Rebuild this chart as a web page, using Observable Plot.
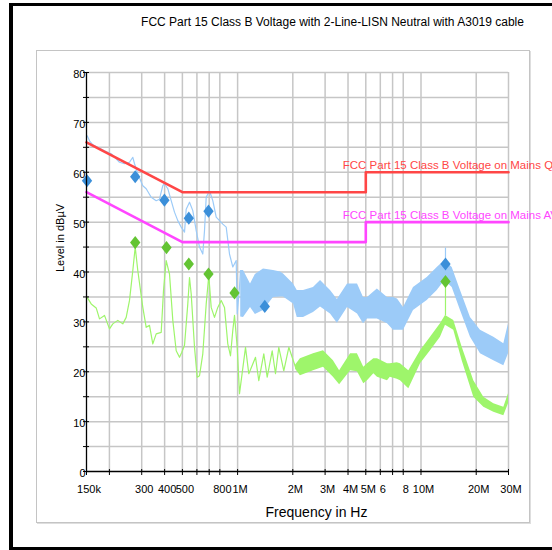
<!DOCTYPE html>
<html><head><meta charset="utf-8">
<script src="https://cdn.jsdelivr.net/npm/d3@7"></script>
<script src="https://cdn.jsdelivr.net/npm/@observablehq/plot@0.6"></script>
<style>
html,body{margin:0;padding:0;background:#fff;width:552px;height:550px;overflow:hidden;}
#outer{position:absolute;left:9px;top:3px;width:600px;height:547px;box-sizing:border-box;border-left:4px solid #000;border-top:3px solid #000;border-bottom:3px solid #000;}
#panel{position:absolute;left:36px;top:50px;width:494px;height:473px;box-sizing:border-box;border:1px solid #c4c4c4;box-shadow:1px 1px 0 #dedede;}
#chart{position:absolute;left:0;top:0;}
</style></head><body>
<div id="outer"></div><div id="panel"></div><div id="chart"></div>
<script>
// ---- data (frequency in MHz, level in dBµV) ----
const titleText = "FCC Part 15 Class B Voltage with 2-Line-LISN Neutral with A3019 cable";
const xLabel = "Frequency in Hz";
const yLabel = "Level in dBµV";

const xTickValues = [0.15,0.2,0.3,0.4,0.5,0.6,0.7,0.8,1,2,3,4,5,6,7,8,10,20,30];
const xTickLabels = ["150k","","300","400","500","","","800","1M","2M","3M","4M","5M","6","","8","10M","20M","30M"];
const yMajor = [0,10,20,30,40,50,60,70,80];
const yMinor = [5,15,25,35,45,55,65,75];

// limit lines
const qpFreq = [0.15,0.5,5,5,30];
const qpLevel = [66,56,56,60,60];
const avFreq = [0.15,0.5,5,5,30];
const avLevel = [56,46,46,50,50];
const qpName = "FCC Part 15 Class B Voltage on Mains QP";
const avName = "FCC Part 15 Class B Voltage on Mains AV";

// peak trace (low-frequency part, single line)
const peakLowFreq = [0.1513,0.1558,0.1624,0.1728,0.188,0.2045,0.2177,0.227,0.2417,0.2574,0.2683,0.2741,0.2856,0.3042,0.3174,0.338,0.3598,0.375,0.3909,0.3994,0.4163,0.4344,0.4528,0.472,0.4926,0.5135,0.5245,0.5467,0.5698,0.5946,0.6198,0.646,0.66,0.6742,0.7026,0.7324,0.7644,0.7968,0.8305,0.8666,0.9033,0.9415,0.9827,0.995,1.0241,1.0372];
const peakLowLevel = [67.3,66.3,65.5,65.0,64.3,63.7,62.7,62.0,61.7,62.0,63.0,61.7,59.7,57.3,56.7,55.0,54.3,54.6,57.3,57.7,56.7,54.3,52.0,50.3,49.0,48.0,52.6,54.0,52.3,48.3,45.0,43.6,48.3,55.0,56.3,54.3,51.0,50.3,49.6,49.0,43.6,41.0,42.3,31.6,37.0,40.3];
// peak trace (high-frequency part, dense noise band)
const peakBandFreq = [1.04,1.077,1.176,1.25,1.384,1.569,1.714,1.78,2.018,2.114,2.288,2.593,2.832,3.21,3.5,3.975,4.217,4.507,4.858,5.108,5.78,6.566,7.08,7.443,8.03,9.1,10.81,12.26,13.49,14.79,16.42,18.61,21.1,24.95,28.29,30];
const peakBandLow = [31,30.9,32.9,31.5,32.3,34.9,35,35,33.6,30.9,30.9,31.9,33,31.6,29.7,32.9,32.3,31.6,29.6,30.6,30.6,29.6,28.3,28.3,28.3,32.3,34.3,36.3,38.3,36.9,32.3,26.9,23.6,22.2,21.2,23.6];
const peakBandHigh = [40.3,40.3,37.6,39.5,40.6,40.3,40,39.6,37.6,36.3,36.3,36.9,38.3,36.3,34.5,37.6,37.6,37.6,34.9,34.9,36.6,34.9,34.9,34.6,32.9,36.9,38.9,40.9,42.3,40.9,36.3,30.9,28.3,26.9,25.6,29.6];

// average trace (low-frequency part)
const avgLowFreq = [0.1513,0.1591,0.1694,0.1766,0.188,0.2002,0.2087,0.2222,0.2366,0.2469,0.2574,0.2683,0.2765,0.2856,0.3042,0.3174,0.3308,0.3448,0.3598,0.3832,0.3944,0.408,0.4253,0.4433,0.4626,0.4822,0.4963,0.5135,0.5351,0.5467,0.5585,0.5821,0.6022,0.6198,0.646,0.6742,0.6965,0.7178,0.7482,0.7799,0.814,0.8483,0.8841,0.9148,0.9415,0.9619,0.995,1.0241,1.1044,1.151,1.252,1.305,1.3893,1.4502,1.5438,1.6092,1.6773,1.786,1.9025,2.069];
const avgLowLevel = [34.9,33.6,32.8,30.6,31.3,28.6,29.6,30.3,29.6,30.9,34.3,40.3,45.0,40.3,32.9,28.9,29.3,25.6,27.6,27.9,36.3,42.3,39.6,30.3,24.2,22.9,23.9,25.3,33.6,38.9,35.6,24.9,18.9,19.2,23.6,33.6,39.3,32.9,30.9,32.9,34.3,32.9,25.6,23.2,28.3,31.3,24.9,15.6,24.9,19.6,22.9,18.2,23.6,18.9,24.2,19.6,24.9,20.2,24.9,20.9];
// average trace (high-frequency band)
const avgBandFreq = [2.069,2.2,2.593,2.94,3.33,3.6,4.13,4.5,4.876,5.108,5.53,5.79,6.566,6.8,7.416,7.73,8.58,9.94,11.27,12.77,13.6,15.09,16.77,19.4,22.0,24.95,28.29,30];
const avgBandLow = [20.5,19.2,20.2,20.9,18.9,17.4,20.2,20.0,17.6,18.2,19.6,18.9,18.2,18.9,18.5,18.2,16.6,21.6,24.2,26.9,29.3,28.3,22.2,14.9,12.9,11.9,11.2,13.6];
const avgBandHigh = [21.3,22.6,23.6,24.2,22.2,20.2,23.6,23.6,20.9,21.6,22.6,22.6,21.6,21.6,21.8,21.6,20.2,24.2,26.9,29.6,31.3,30.3,24.9,18.2,14.9,13.6,12.9,15.6];

// spikes at the final measurement frequency
const spikeFreq = [13.6];
const peakSpikeLow = [41.6], peakSpikeHigh = [44.8];
const avgSpikeLow = [31.2], avgSpikeHigh = [38.1];

// final measurement markers
const peakMarkFreq = [0.151,0.2765,0.399,0.5419,0.6939,1.407,13.6];
const peakMarkLevel = [58.3,59.1,54.4,50.8,52.2,33.1,41.6];
const avgMarkFreq = [0.2765,0.4096,0.5419,0.6939,0.9619,13.6];
const avgMarkLevel = [45.9,44.9,41.6,39.6,35.8,38.1];

// ---- build tables ----
const pts = (fs, vs) => fs.map((f, i) => ({f, v: vs[i]}));
const band = (fs, lo, hi) => fs.map((f, i) => ({f, lo: lo[i], hi: hi[i]}));
const peakLow = pts(peakLowFreq, peakLowLevel);
const avgLow = pts(avgLowFreq, avgLowLevel);
const peakBand = band(peakBandFreq, peakBandLow, peakBandHigh);
const avgBand = band(avgBandFreq, avgBandLow, avgBandHigh);
const qp = pts(qpFreq, qpLevel);
const av = pts(avFreq, avLevel);
const peakSpikes = band(spikeFreq, peakSpikeLow, peakSpikeHigh);
const avgSpikes = band(spikeFreq, avgSpikeLow, avgSpikeHigh);
const peakMarks = pts(peakMarkFreq, peakMarkLevel);
const avgMarks = pts(avgMarkFreq, avgMarkLevel);
const xTicks = xTickValues.map((v, i) => ({v, label: xTickLabels[i]}));

const diamond = {
  draw(context, size) {
    const s = Math.sqrt(size / Math.PI);
    context.moveTo(0, -s);
    context.lineTo(0.78 * s, 0);
    context.lineTo(0, s);
    context.lineTo(-0.78 * s, 0);
    context.closePath();
  }
};

const font = "'Liberation Sans', Arial, sans-serif";
const gridColor = "#c6c6c6";
const peakColor = "#9ccbf8";
const avgColor = "#9ef56b";

const chart = Plot.plot({
  width: 552, height: 550,
  marginLeft: 86, marginRight: 44, marginTop: 72, marginBottom: 79,
  style: {fontFamily: font, fontSize: "11px", background: "transparent", color: "#000", overflow: "visible"},
  x: {type: "log", domain: [0.15, 30], axis: null},
  y: {domain: [0, 80]},
  marks: [
    Plot.ruleY(yMajor.concat(yMinor).filter(d => d > 0), {stroke: gridColor, strokeWidth: 1.5}),
    Plot.ruleX(xTickValues.filter(d => d > 0.15), {stroke: gridColor, strokeWidth: 1.5}),
    Plot.areaY(peakBand, {x: "f", y1: "lo", y2: "hi", fill: peakColor}),
    Plot.line(peakLow, {x: "f", y: "v", stroke: peakColor, strokeWidth: 1.2}),
    Plot.ruleX(peakSpikes, {x: "f", y1: "lo", y2: "hi", stroke: peakColor, strokeWidth: 1.2}),
    Plot.areaY(avgBand, {x: "f", y1: "lo", y2: "hi", fill: avgColor}),
    Plot.line(avgLow, {x: "f", y: "v", stroke: avgColor, strokeWidth: 1.2}),
    Plot.ruleX(avgSpikes, {x: "f", y1: "lo", y2: "hi", stroke: avgColor, strokeWidth: 1.2}),
    Plot.line(qp, {x: "f", y: "v", stroke: "#ff4646", strokeWidth: 2.6}),
    Plot.line(av, {x: "f", y: "v", stroke: "#ff46ff", strokeWidth: 2.6}),
    Plot.text(qp.slice(3, 4), {x: "f", y: "v", text: () => qpName, fill: "#ff4646", textAnchor: "start", lineAnchor: "middle", dx: -23, dy: -7, fontSize: 11.5}),
    Plot.text(av.slice(3, 4), {x: "f", y: "v", text: () => avName, fill: "#ff46ff", textAnchor: "start", lineAnchor: "middle", dx: -23, dy: -7, fontSize: 11.5}),
    Plot.dot(peakMarks, {x: "f", y: "v", symbol: diamond, r: 6.6, fill: "#3b8fd9", stroke: "none"}),
    Plot.dot(avgMarks, {x: "f", y: "v", symbol: diamond, r: 6.6, fill: "#63c433", stroke: "none"}),
    // axis lines and tick marks
    Plot.ruleY([0], {stroke: "#000", strokeWidth: 1.3}),
    Plot.ruleX([0.15], {stroke: "#000", strokeWidth: 1.3}),
    Plot.ruleX(xTickValues, {stroke: "#000", strokeWidth: 1, insetTop: 397, insetBottom: -4}),
    Plot.ruleY(yMajor.concat(yMinor), {stroke: "#000", strokeWidth: 1, insetLeft: -3, insetRight: 419}),
    // tick labels
    Plot.text(xTicks, {x: "v", text: "label", frameAnchor: "bottom", dy: 18, dx: 2.5, lineAnchor: "middle", fontSize: 11}),
    Plot.axisY(yMajor, {tickSize: 0, tickPadding: 1, dy: 2, label: null, fontSize: 11}),
    // titles
    Plot.text([xLabel], {frameAnchor: "bottom", dy: 41, dx: 19, fontSize: 14, lineAnchor: "middle"}),
    Plot.text([yLabel], {frameAnchor: "left", dx: -26, rotate: -90, fontSize: 11, lineAnchor: "middle"}),
    Plot.text([titleText], {frameAnchor: "top", dx: 35, dy: -50, fontSize: 12, lineAnchor: "middle"})
  ]
});
document.getElementById("chart").appendChild(chart);
</script></body></html>
